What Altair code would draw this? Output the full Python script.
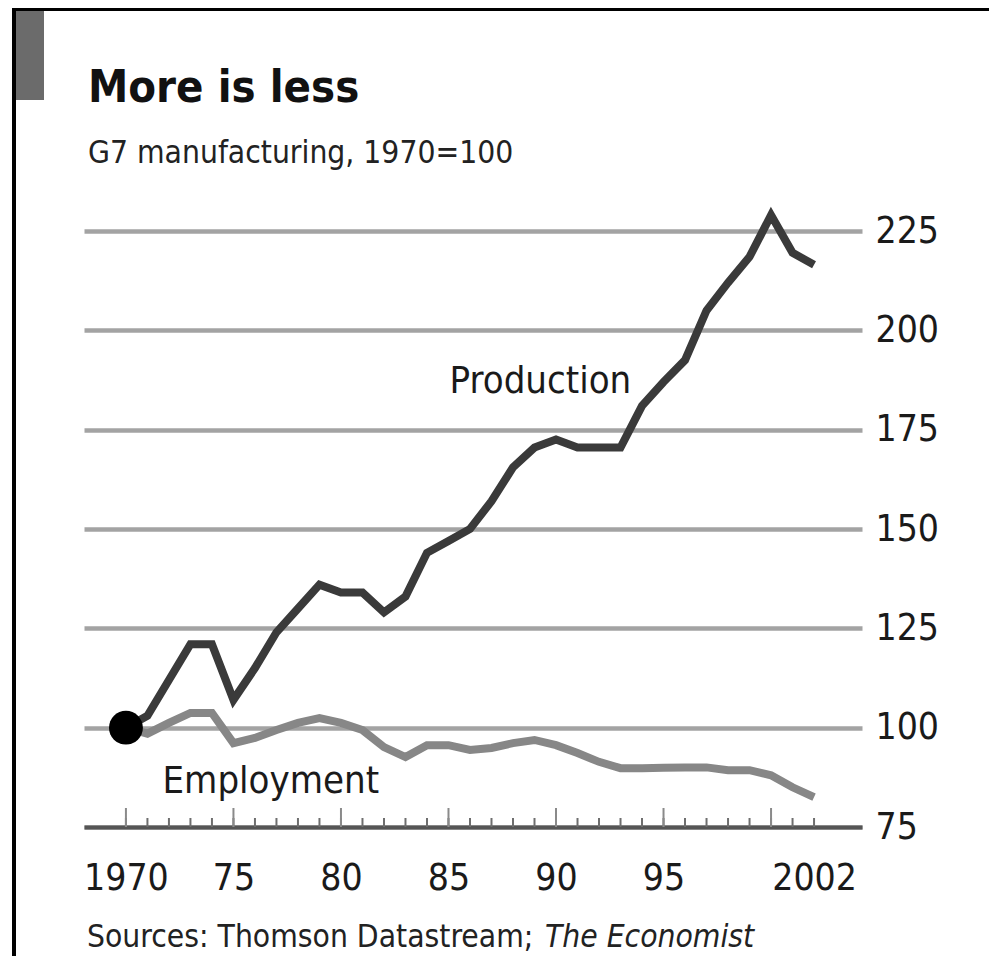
import altair as alt
import pandas as pd

# ---------------- data ----------------
years = list(range(1970, 2003))
production = [100, 103, 112, 121, 121, 107, 115, 124, 130, 136, 134, 134, 129, 133,
              144, 147, 150, 157, 165.5, 170.5, 172.5, 170.5, 170.5, 170.5, 181, 187,
              192.5, 205, 212, 218.5, 229, 219.5, 216.5]
employment = [100, 98.5, 101.2, 103.7, 103.7, 96.1, 97.4, 99.4, 101.2, 102.4, 101.2,
              99.4, 95.1, 92.6, 95.6, 95.6, 94.4, 94.9, 96.1, 96.9, 95.6, 93.6, 91.4,
              89.8, 89.8, 89.9, 90, 90, 89.3, 89.3, 88, 85, 82.5]
series_names = ["Production", "Employment"]
series_colors = ["#3a3a3a", "#878787"]

x_label_years = [1970, 1975, 1980, 1985, 1990, 1995, 2002]
major_tick_years = [1970, 1975, 1980, 1985, 1990, 1995, 2000]
y_ticks = [75, 100, 125, 150, 175, 200, 225]

label_text = ["Production", "Employment"]
label_year = [1985.05, 1971.7]
label_value = [184.2, 83.6]

title = "More is less"
subtitle = "G7 manufacturing, 1970=100"
source_regular = "Sources: Thomson Datastream;"
source_italic = "The Economist"

FONT = "'DejaVu Sans Condensed', 'DejaVu Sans', sans-serif"

W, H = 778, 596

df = pd.DataFrame({
    "year": years * 2,
    "value": production + employment,
    "series": ["Production"] * len(years) + ["Employment"] * len(years),
})
ticks_df = pd.DataFrame({"year": years, "value": [75] * len(years)})
major_df = pd.DataFrame({"year": major_tick_years, "value": [75] * len(major_tick_years)})
labels_df = pd.DataFrame({"text": label_text, "year": label_year, "value": label_value})
dot_df = pd.DataFrame({"year": [years[0]], "value": [production[0]]})

xscale = alt.Scale(domain=[1968.05, 2004.23], nice=False, zero=False)
yscale = alt.Scale(domain=[75, 225], nice=False, zero=False)

label_expr = ("datum.value == 1970 || datum.value == 2002 ? toString(datum.value) : "
              "substring(toString(datum.value), 2, 4)")

X_AXIS = alt.Axis(values=x_label_years, labelExpr=label_expr, ticks=False, tickSize=0,
                  grid=False, domain=True, domainColor="#555555", domainWidth=4,
                  labelFontSize=37, labelFont=FONT, labelColor="#1a1a1a",
                  labelPadding=33, title=None, labelFlush=False)
Y_AXIS = alt.Axis(orient="right", values=y_ticks, grid=True, gridColor="#a3a3a3",
                  gridWidth=4.5, domain=False, ticks=False, tickSize=0,
                  labelPadding=13, labelFontSize=37, labelFont=FONT,
                  labelColor="#1a1a1a", title=None)


def X():
    return alt.X("year:Q", scale=xscale, axis=X_AXIS)


def Y():
    return alt.Y("value:Q", scale=yscale, axis=Y_AXIS)


lines = alt.Chart(df).mark_line(strokeWidth=8, strokeJoin="miter").encode(
    x=X(), y=Y(),
    color=alt.Color("series:N", scale=alt.Scale(domain=series_names, range=series_colors),
                    legend=None),
    detail="series:N",
    order=alt.Order("year:Q"),
)

minor_ticks = alt.Chart(ticks_df).mark_rule(color="#6e6e6e", strokeWidth=2).encode(
    x=X(), y=Y(), y2=alt.value(H - 9),
)
major_ticks = alt.Chart(major_df).mark_rule(color="#8a8a8a", strokeWidth=2).encode(
    x=X(), y=Y(), y2=alt.value(H - 19),
)

dot = alt.Chart(dot_df).mark_circle(color="#000000", opacity=1, size=1150).encode(
    x=X(), y=Y(),
)

labels = alt.Chart(labels_df).mark_text(
    align="left", baseline="alphabetic", fontSize=38, font=FONT, color="#1a1a1a"
).encode(
    x=X(), y=Y(), text="text:N",
)

# decorations / titles
one = pd.DataFrame({"k": [0]})
top_border = alt.Chart(one).mark_rect(color="#000000").encode(
    x=alt.value(-72), x2=alt.value(W + 130), y=alt.value(-225), y2=alt.value(-220))
left_border = alt.Chart(one).mark_rect(color="#000000").encode(
    x=alt.value(-72), x2=alt.value(-68), y=alt.value(-225), y2=alt.value(H + 140))
gray_bar = alt.Chart(one).mark_rect(color="#6b6b6b").encode(
    x=alt.value(-68), x2=alt.value(-40), y=alt.value(-220), y2=alt.value(-131))

title_t = alt.Chart(one).mark_text(
    text=title, align="left", baseline="alphabetic", fontSize=45, fontWeight="bold",
    font=FONT, color="#111111").encode(x=alt.value(4), y=alt.value(-129))
subtitle_t = alt.Chart(one).mark_text(
    text=subtitle, align="left", baseline="alphabetic", fontSize=31.5,
    font=FONT, color="#222222").encode(x=alt.value(4), y=alt.value(-68))
source_t = alt.Chart(one).mark_text(
    text=source_regular, align="left", baseline="alphabetic", fontSize=31.5,
    font=FONT, color="#222222").encode(x=alt.value(3), y=alt.value(716))
source_i = alt.Chart(one).mark_text(
    text=source_italic, align="left", baseline="alphabetic", fontSize=31.5, fontStyle="italic",
    font=FONT, color="#222222").encode(x=alt.value(461), y=alt.value(716))

chart = alt.layer(
    top_border, left_border, gray_bar, title_t, subtitle_t, source_t, source_i,
    minor_ticks, major_ticks, lines, dot, labels
).properties(
    width=W, height=H,
    padding={"left": 76, "top": 223, "right": 127, "bottom": 129},
    autosize=alt.AutoSizeParams(type="none"),
    background="#ffffff",
).configure_view(stroke=None)

chart.save("out.html", embed_options={"renderer": "svg", "actions": False})
